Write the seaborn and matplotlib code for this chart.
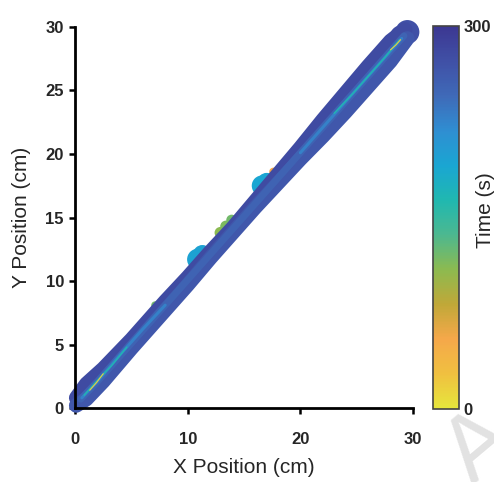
import numpy as np
import pandas as pd
import matplotlib
matplotlib.use("Agg")
import matplotlib.pyplot as plt
import seaborn as sns
from matplotlib.colors import LinearSegmentedColormap, Normalize
from matplotlib.cm import ScalarMappable

# colour scale of the time bar (0 s at bottom -> 300 s at top)
time_colors = ["#e6e63c", "#f0c040", "#f5a84a", "#c0a838", "#8cba50", "#4cb890",
               "#20b8b0", "#1aa6d2", "#2f8ed2", "#3f6ab8", "#4050a6", "#3c3892"]
time_max = 300

# trajectory passes along the diagonal (cm), one time stamp per pass (s)
pass1_x = [0.1, 1.0, 2.5, 5.0, 8.0, 10.0, 12.0, 14.0, 16.0, 18.0, 20.0, 22.0, 24.0, 26.0, 28.0, 29.3]
pass1_y = [0.8, 1.9, 3.1, 5.4, 8.4, 10.3, 12.3, 14.2, 16.3, 18.4, 20.5, 22.7, 24.8, 26.9, 28.9, 29.8]
pass1_t = 278

pass2_x = [0.1, 1.0, 2.5, 5.0, 8.0, 10.0, 12.0, 14.0, 16.0, 18.0, 20.0, 22.0, 24.0, 26.0, 28.0, 29.5]
pass2_y = [0.2, 0.7, 2.1, 4.7, 7.7, 9.7, 11.8, 13.8, 15.8, 17.7, 19.6, 21.4, 23.3, 25.3, 27.3, 29.1]
pass2_t = 266

pass3_x = [0.5, 2.0, 4.0, 6.0, 8.0, 10.0, 12.0, 14.0, 16.0, 18.0, 20.0, 22.0, 24.0, 26.0, 28.0, 29.2]
pass3_y = [0.7, 2.1, 4.1, 6.1, 8.1, 10.1, 12.1, 14.1, 16.1, 18.1, 20.1, 22.1, 24.1, 26.1, 28.1, 29.3]
pass3_t = 252

pass4a_x = [0.6, 2.0, 4.0, 6.0, 8.0]
pass4a_y = [0.8, 2.1, 4.2, 6.2, 8.1]
pass4b_x = [20.0, 22.0, 24.0, 26.0, 28.0, 29.0]
pass4b_y = [20.1, 22.1, 24.1, 26.1, 28.1, 29.1]
pass4_t = 228

pass5a_x = [0.8, 2.0, 3.2, 4.6]
pass5a_y = [1.0, 2.2, 3.3, 4.8]
pass5b_x = [23.0, 24.6, 26.2, 27.5, 28.8]
pass5b_y = [23.2, 24.7, 26.3, 27.6, 29.0]
pass5_t = 165

pass6a_x = [1.3, 1.9, 2.5]
pass6a_y = [1.4, 2.0, 2.7]
pass6b_x = [28.0, 28.5, 28.9]
pass6b_y = [28.2, 28.6, 29.0]
pass6_t = 20

# excursions off the track edge (cm, s)
spot_x = [10.9, 11.3, 16.6, 17.0, 12.9, 13.4, 13.9, 17.6, 7.1, 29.0, 29.5]
spot_y = [11.7, 12.1, 17.5, 17.8, 13.8, 14.3, 14.8, 18.6, 8.1, 29.2, 29.6]
spot_t = [195, 195, 190, 190, 110, 115, 120, 55, 120, 275, 272]
spot_s = [240, 180, 220, 170, 70, 70, 60, 35, 30, 300, 300]

sns.set_theme(style="ticks")
plt.rcParams['font.family'] = ['Liberation Sans', 'DejaVu Sans']

cmap = LinearSegmentedColormap.from_list("time", time_colors)
norm = Normalize(0, time_max)

fig = plt.figure(figsize=(4.94, 4.82), dpi=100)
ax = fig.add_axes([0.152, 0.1535, 0.684, 0.7905])

spots = pd.DataFrame({"x": spot_x, "y": spot_y, "t": spot_t, "s": spot_s})
sns.scatterplot(data=spots, x="x", y="y", hue="t", palette=cmap, hue_norm=norm,
                size="s", sizes=(min(spot_s), max(spot_s)), linewidth=0,
                legend=False, ax=ax, clip_on=False, zorder=1)

passes = [(pass1_x, pass1_y, pass1_t, 10.5), (pass2_x, pass2_y, pass2_t, 10.5),
          (pass3_x, pass3_y, pass3_t, 5),
          (pass4a_x, pass4a_y, pass4_t, 2.2), (pass4b_x, pass4b_y, pass4_t, 2.2),
          (pass5a_x, pass5a_y, pass5_t, 1.0), (pass5b_x, pass5b_y, pass5_t, 1.0),
          (pass6a_x, pass6a_y, pass6_t, 0.8), (pass6b_x, pass6b_y, pass6_t, 0.8)]
for px, py, pt, lw in passes:
    ax.plot(px, py, color=cmap(norm(pt)), lw=lw, solid_capstyle="round",
            solid_joinstyle="round", zorder=2, clip_on=False)

ax.set_xlim(0, 30)
ax.set_ylim(0, 30)
ax.set_xticks([0, 10, 20, 30])
ax.set_yticks([0, 5, 10, 15, 20, 25, 30])
ax.tick_params(length=4, width=1.8, labelsize=12, color="black")
ax.tick_params(axis="x", pad=13)
ax.tick_params(axis="y", pad=4)
for lab in ax.get_xticklabels() + ax.get_yticklabels():
    lab.set_fontweight("bold")
sns.despine(ax=ax)
for side in ["left", "bottom"]:
    ax.spines[side].set_linewidth(2)
    ax.spines[side].set_color("black")
ax.set_xlabel("X Position (cm)", fontsize=15, labelpad=8)
ax.set_ylabel("Y Position (cm)", fontsize=15)
ax.yaxis.set_label_coords(-0.13, 0.5)

cax = fig.add_axes([0.8765, 0.1515, 0.0526, 0.7945])
cb = fig.colorbar(ScalarMappable(norm=norm, cmap=cmap), cax=cax, ticks=[0, 300])
cb.outline.set_edgecolor("#444444")
cb.outline.set_linewidth(1.2)
cax.tick_params(length=0, labelsize=12, pad=3)
for lab in cax.get_yticklabels():
    lab.set_fontweight("bold")
cb.set_label("Time (s)", fontsize=15)
cax.yaxis.set_label_coords(1.66, 0.52)

# faint watermark letter at the lower right corner
fig.text(0.9575, -0.01, "A", fontsize=66, color="#e2e2e2", rotation=40,
         rotation_mode="anchor", ha="left", va="baseline", zorder=0)

fig.savefig("out.png", dpi=100)
